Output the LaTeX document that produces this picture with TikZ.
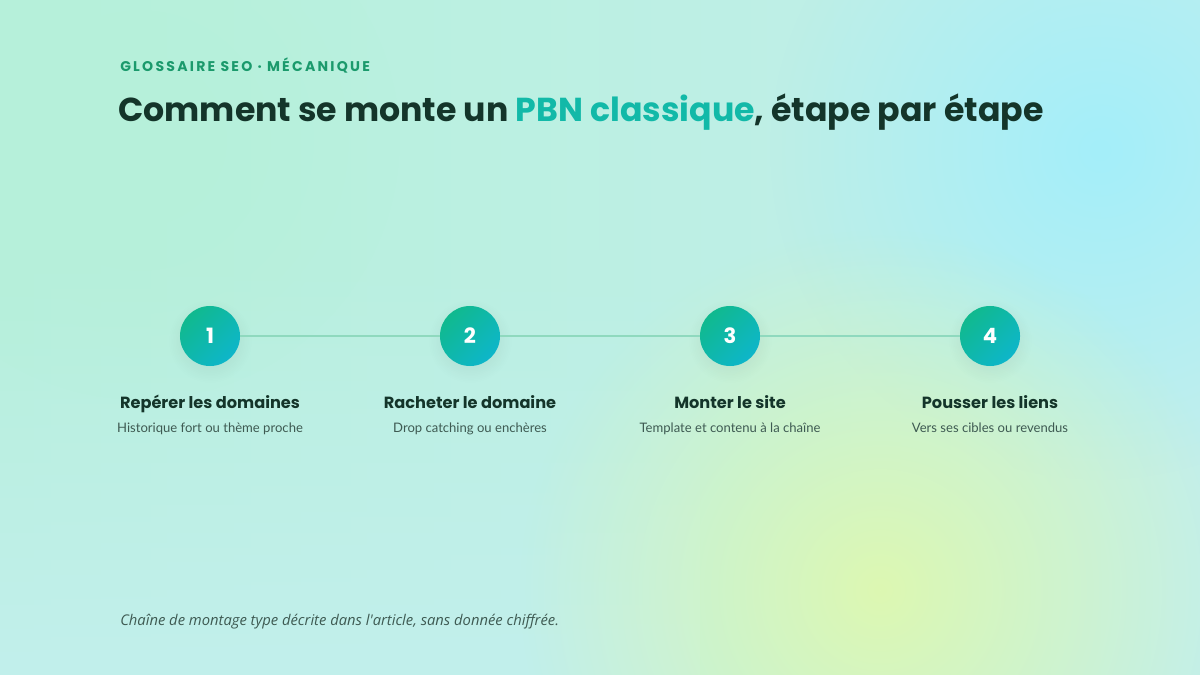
\documentclass[tikz,border=0pt]{standalone}
\usepackage{fontspec}
\setmainfont{Lato}
\newfontfamily\headfont{Poppins}
\newfontfamily\kickfont[LetterSpace=16]{Poppins}
\newfontfamily\notefont{Open Sans}
\usetikzlibrary{fadings,positioning}
\tikzfading[name=blobfade, inner color=transparent!0, outer color=transparent!100]
\tikzfading[name=upfade, top color=transparent!100, bottom color=transparent!0]
\definecolor{bgmint}{HTML}{B6F0DA}
\definecolor{bgcyan}{HTML}{C2EFEC}
\definecolor{blobcyan}{HTML}{A4EEFA}
\definecolor{blobyellow}{HTML}{DDF8B2}
\definecolor{inkdark}{HTML}{14352A}
\definecolor{inksoft}{HTML}{3E5A52}
\definecolor{kickgreen}{HTML}{1B9A6C}
\definecolor{accent}{HTML}{12B9A8}
\definecolor{dotgreen}{HTML}{10B98E}
\definecolor{dotcyan}{HTML}{0EB6CA}
\definecolor{linkcol}{HTML}{8FD9BE}
\tikzset{
  stepdot/.style={circle, minimum size=1.5cm, inner sep=0pt, text=white,
    font=\headfont\bfseries\fontsize{15}{15}\selectfont,
    top color=dotgreen, bottom color=dotcyan, shading angle=45},
  steptitle/.style={text=inkdark, font=\headfont\bfseries\fontsize{11.5}{12}\selectfont},
  stepsub/.style={text=inksoft, font=\fontsize{9.3}{10}\selectfont},
  linkline/.style={draw=linkcol, line width=1.5pt}
}
\begin{document}
\begin{tikzpicture}[x=0.025cm, y=-0.025cm]
\useasboundingbox (0,0) rectangle (1200,675);
\shade[left color=bgmint, right color=bgcyan] (0,0) rectangle (1200,675);
\fill[bgcyan, path fading=upfade] (0,250) rectangle (700,675);
\fill[blobcyan, path fading=blobfade, fit fading=true] (1100,150) circle (330);
\fill[blobyellow, path fading=blobfade, fit fading=true] (880,590) circle (360);
\fill[bgmint, path fading=blobfade, fit fading=true] (140,140) circle (260);

\node[anchor=base west, inner sep=0pt, text=kickgreen, font=\kickfont\bfseries\fontsize{10}{10}\selectfont]
  (kicker) at (120,72) {GLOSSAIRE SEO · MÉCANIQUE};
\node[anchor=base west, inner sep=0pt, text=inkdark, font=\headfont\bfseries\fontsize{23.6}{26}\selectfont]
  (title) at (118,122) {Comment se monte un \textcolor{accent}{PBN classique}, étape par étape};

\foreach \i/\t/\s in {1/Repérer les domaines/Historique fort ou thème proche,
  2/Racheter le domaine/Drop catching ou enchères,
  3/Monter le site/Template et contenu à la chaîne,
  4/Pousser les liens/Vers ses cibles ou revendus}
{
\pgfmathsetmacro{\x}{210+260*(\i-1)}
\fill[black, opacity=0.10, path fading=blobfade, fit fading=true] (\x,341) circle (42);
\node[stepdot] (c\i) at (\x,336) {\i};
\node[steptitle, anchor=base] (t\i) at (\x,408) {\t};
\node[stepsub, anchor=base] (s\i) at (\x,432) {\s};
}
\draw[linkline] (c1) -- (c2);
\draw[linkline] (c2) -- (c3);
\draw[linkline] (c3) -- (c4);

\node[anchor=base west, inner sep=0pt, text=inksoft, font=\notefont\itshape\fontsize{10.5}{12}\selectfont]
  (note) at (120,625) {Chaîne de montage type décrite dans l'article, sans donnée chiffrée.};
\end{tikzpicture}
\end{document}
